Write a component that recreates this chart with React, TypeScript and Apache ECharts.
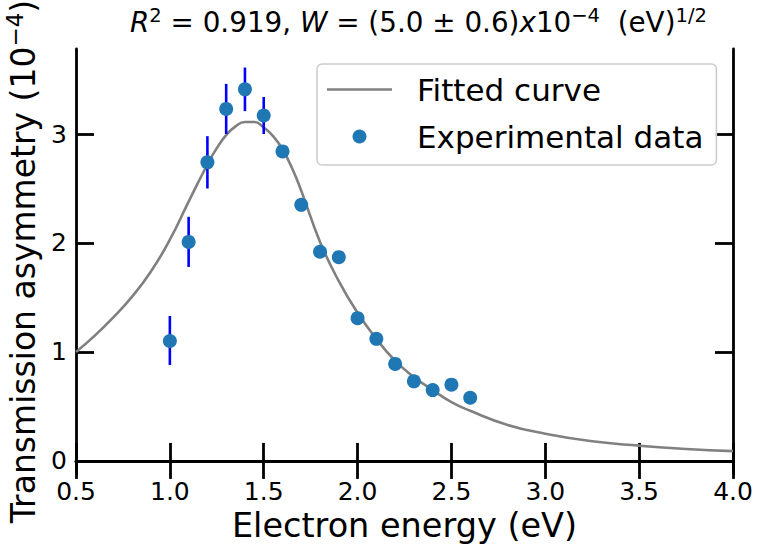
import React, { useEffect, useRef } from "react";
import * as echarts from "echarts";

// Experimental data
const dataX = [1.0, 1.1, 1.2, 1.3, 1.4, 1.5, 1.6, 1.7, 1.8, 1.9, 2.0, 2.1, 2.2, 2.3, 2.4, 2.5, 2.6];
const dataY = [1.10, 2.01, 2.74, 3.23, 3.41, 3.17, 2.84, 2.35, 1.92, 1.87, 1.31, 1.12, 0.89, 0.73, 0.65, 0.70, 0.58];
// Error bars (first six points)
const errX = [1.0, 1.1, 1.2, 1.3, 1.4, 1.5];
const errLow = [0.88, 1.78, 2.50, 3.00, 3.21, 3.00];
const errHigh = [1.33, 2.24, 2.98, 3.46, 3.61, 3.34];
// Fitted curve
const curveX = [0.5, 0.6, 0.7, 0.8, 0.9, 1.0, 1.1, 1.2, 1.25, 1.3, 1.35, 1.4, 1.45, 1.5, 1.55, 1.6, 1.65, 1.7, 1.8, 1.9, 2.0, 2.1, 2.2, 2.3, 2.4, 2.5, 2.6, 2.8, 3.0, 3.25, 3.5, 3.75, 4.0];
const curveY = [1.00, 1.15, 1.32, 1.51, 1.74, 2.03, 2.38, 2.72, 2.87, 2.99, 3.07, 3.11, 3.11, 3.06, 2.98, 2.86, 2.69, 2.48, 2.01, 1.65, 1.36, 1.12, 0.92, 0.77, 0.65, 0.54, 0.46, 0.33, 0.25, 0.18, 0.14, 0.11, 0.09];
// Axis ticks
const yTickValues = [0, 1, 2, 3];
const xMin = 0.5;
const xMax = 4.0;
const xInterval = 0.5;
const yMin = -0.12;
const yMax = 3.78;

const FONT = "DejaVu Sans";

export default function App() {
  const ref = useRef<HTMLDivElement>(null);
  useEffect(() => {
    if (!ref.current) return;
    const chart = echarts.init(ref.current, undefined, { renderer: "svg" });
    const axisLineStyle = { color: "#000", width: 2.8 };
    const tickStyle = { color: "#000", width: 2.8 };
    const option: any = {
      animation: false,
      backgroundColor: "#fff",
      title: {
        left: 130,
        top: 5,
        padding: 0,
        text: "{i|R}{s|2}{n| = 0.919, }{i|W}{n| = (5.0 ± 0.6)}{i|x}{n|10}{s|−4}{n|  (eV)}{s|1/2}",
        textStyle: {
          fontWeight: "normal",
          rich: {
            n: { fontFamily: FONT, fontSize: 27.8, fontWeight: "normal", color: "#000", lineHeight: 35 },
            i: { fontFamily: FONT, fontSize: 27.8, fontWeight: "normal", fontStyle: "italic", color: "#000", lineHeight: 35 },
            s: { fontFamily: FONT, fontSize: 19.5, fontWeight: "normal", color: "#000", lineHeight: 18, verticalAlign: "top" },
          },
        },
      },
      grid: { left: 76, right: 24, top: 49, bottom: 73, containLabel: false, outerBoundsMode: "none" },
      legend: {
        data: [
          { name: "Fitted curve", icon: "path://M0,0L65,0L65,2.6L0,2.6Z" },
          { name: "Experimental data", icon: "circle" },
        ],
        orient: "vertical",
        left: 317,
        top: 64,
        padding: [10, 13, 13, 10],
        itemWidth: 65,
        itemHeight: 14,
        itemGap: 16,
        backgroundColor: "rgba(255,255,255,0.85)",
        borderColor: "#cccccc",
        borderWidth: 1.5,
        borderRadius: 5,
        z: 10,
        textStyle: { fontFamily: FONT, fontSize: 31, color: "#000", padding: [0, 0, 0, 20] },
      },
      xAxis: [
        {
          type: "value",
          min: xMin,
          max: xMax,
          interval: xInterval,
          position: "bottom",
          name: "Electron energy (eV)",
          nameLocation: "middle",
          nameGap: 33,
          nameTextStyle: { fontFamily: FONT, fontSize: 33.5, color: "#000" },
          axisLine: { show: true, lineStyle: axisLineStyle },
          axisTick: { show: true, inside: true, length: 18, lineStyle: tickStyle },
          axisLabel: {
            fontFamily: FONT,
            fontSize: 25,
            color: "#000",
            margin: 5,
            formatter: (v: number) => v.toFixed(1),
            showMinLabel: true,
            showMaxLabel: true,
          },
          splitLine: { show: false },
        },
        {
          type: "value",
          min: xMin,
          max: xMax,
          interval: xInterval,
          position: "top",
          axisLine: { show: true, lineStyle: axisLineStyle },
          axisTick: { show: true, inside: true, length: 18, lineStyle: tickStyle },
          axisLabel: { show: false },
          splitLine: { show: false },
        },
      ],
      yAxis: [
        {
          type: "value",
          min: yMin,
          max: yMax,
          position: "left",
          name: "{n|Transmission asymmetry (10}{s|−4}{n|)}",
          nameLocation: "middle",
          nameGap: 29,
          nameTextStyle: {
            rich: {
              n: { fontFamily: FONT, fontSize: 33, color: "#000", lineHeight: 40 },
              s: { fontFamily: FONT, fontSize: 23, color: "#000", lineHeight: 21, verticalAlign: "top" },
            },
          },
          axisLine: { show: true, lineStyle: axisLineStyle },
          axisTick: { show: true, inside: true, length: 18, lineStyle: tickStyle, customValues: yTickValues },
          axisLabel: {
            fontFamily: FONT,
            fontSize: 25,
            color: "#000",
            margin: 9,
            customValues: yTickValues,
            formatter: (v: number) => String(Math.round(v)),
          },
          splitLine: { show: false },
        },
        {
          type: "value",
          min: yMin,
          max: yMax,
          position: "right",
          axisLine: { show: true, lineStyle: axisLineStyle },
          axisTick: { show: true, inside: true, length: 18, lineStyle: tickStyle, customValues: yTickValues },
          axisLabel: { show: false },
          splitLine: { show: false },
        },
      ],
      series: [
        {
          name: "Fitted curve",
          type: "line",
          data: curveX.map((x, i) => [x, curveY[i]]),
          symbol: "none",
          smooth: 0.5,
          lineStyle: { color: "#808080", width: 2.6 },
          itemStyle: { color: "#808080" },
          z: 1,
        },
        {
          name: "errorbars",
          type: "custom",
          data: errX.map((x, i) => [x, errLow[i], errHigh[i]]),
          encode: { x: 0, y: [1, 2] },
          renderItem: (params: any, api: any) => {
            const p1 = api.coord([api.value(0), api.value(1)]);
            const p2 = api.coord([api.value(0), api.value(2)]);
            return {
              type: "line",
              shape: { x1: p1[0], y1: p1[1], x2: p2[0], y2: p2[1] },
              style: { stroke: "#0000ff", lineWidth: 2.6 },
            };
          },
          z: 2,
        },
        {
          name: "Experimental data",
          type: "scatter",
          data: dataX.map((x, i) => [x, dataY[i]]),
          symbol: "circle",
          symbolSize: 14,
          itemStyle: { color: "#1f77b4", opacity: 1 },
          z: 3,
        },
      ],
    };
    chart.setOption(option);
    return () => chart.dispose();
  }, []);
  return <div ref={ref} style={{ width: 757, height: 547, position: "absolute", left: 0, top: 0 }} />;
}
